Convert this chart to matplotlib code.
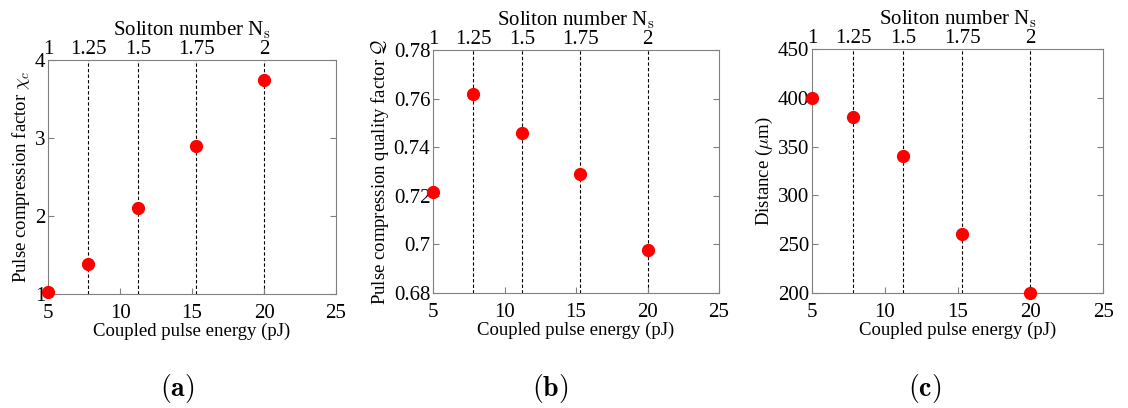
import matplotlib.pyplot as plt
import numpy as np

plt.rcParams['font.family'] = ['Liberation Serif', 'DejaVu Serif']
plt.rcParams['mathtext.fontset'] = 'cm'

# soliton numbers and matching coupled pulse energies (pJ)
soliton_n = [1, 1.25, 1.5, 1.75, 2]
soliton_lbl = ["1", "1.25", "1.5", "1.75", "2"]
energy = [5, 7.8, 11.25, 15.3, 20]

chi_c = [1.02, 1.38, 2.1, 2.9, 3.75]
quality_q = [0.7215, 0.762, 0.746, 0.729, 0.6975]
distance = [400, 380, 340, 260, 200]

ylabels = [r"Pulse compression factor $\chi_c$", r"Pulse compression quality factor $\mathcal{Q}$", r"Distance ($\mu$m)"]
ylims = [(1, 4), (0.68, 0.78), (200, 450)]
yticks = [[1, 2, 3, 4], [0.68, 0.7, 0.72, 0.74, 0.76, 0.78], [200, 250, 300, 350, 400, 450]]
yticklbl = [["1", "2", "3", "4"], ["0.68", "0.7", "0.72", "0.74", "0.76", "0.78"], ["200", "250", "300", "350", "400", "450"]]
panel = ["(a)", "(b)", "(c)"]
panel_x = [0.157, 0.488, 0.82]
rects = [[0.0426, 0.2794, 0.2553, 0.5735], [0.3839, 0.2819, 0.2535, 0.5956], [0.7199, 0.2819, 0.258, 0.598]]

def main():
	fig=plt.figure(figsize=(11.28, 4.08), dpi=100)
	series=[chi_c, quality_q, distance]
	for i in range(3):
		ax=fig.add_axes(rects[i])
		for e in energy[1:]:
			ax.axvline(e, color="black", ls=(0, (3, 2)), lw=0.8, zorder=1)
		ax.plot(energy, series[i], "o", color="red", ms=8.5, mec="red", zorder=3, clip_on=False)
		ax.set_xlim(5, 25)
		ax.set_xticks([5, 10, 15, 20, 25])
		ax.set_ylim(*ylims[i])
		ax.set_yticks(yticks[i])
		ax.set_yticklabels(yticklbl[i])
		ax.tick_params(direction="in", labelsize=15, right=True, length=4, color="#808080", pad=2)
		ax.tick_params(axis="x", pad=7)
		for s in ax.spines.values():
			s.set_color("#808080")
		ax.set_xlabel("Coupled pulse energy (pJ)", fontsize=13.5, labelpad=0)
		ax.set_ylabel(ylabels[i], fontsize=13.5, labelpad=2)

		top=ax.twiny()
		top.set_xlim(5, 25)
		top.set_xticks([5*n**2 for n in soliton_n])
		top.set_xticklabels(soliton_lbl)
		top.tick_params(length=0, labelsize=15, pad=1)
		for s in top.spines.values():
			s.set_visible(False)
		top.set_xlabel(r"Soliton number N$_\mathrm{s}$", fontsize=15, labelpad=3)

		fig.text(panel_x[i], 0.03, r"$\mathbf{"+panel[i]+"}$", ha="center", fontsize=20)

	plt.savefig("out.png", dpi=100)
	plt.close(fig)

if __name__=="__main__":
	main()
